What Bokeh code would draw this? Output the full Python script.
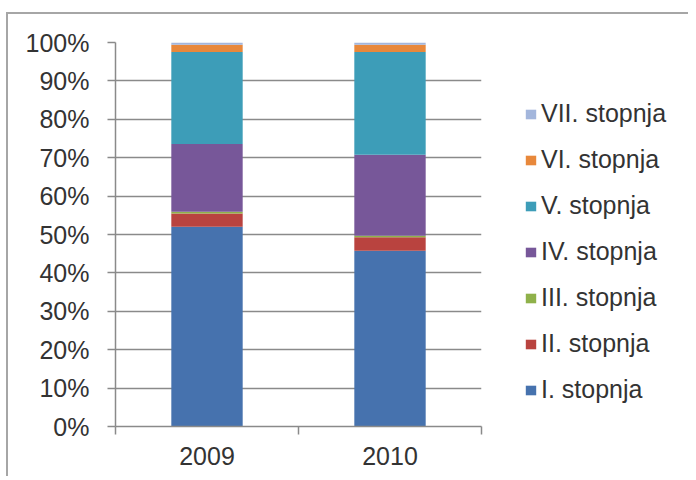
from bokeh.plotting import figure
from bokeh.layouts import row
from bokeh.models import (ColumnDataSource, FixedTicker, NumeralTickFormatter,
                          Range1d, Legend, LegendItem)
from bokeh.embed import file_html
from bokeh.resources import INLINE

years = ["2009", "2010"]
levels = ["I. stopnja", "II. stopnja", "III. stopnja", "IV. stopnja",
          "V. stopnja", "VI. stopnja", "VII. stopnja"]
s1 = [52.0, 45.8]
s2 = [3.5, 3.5]
s3 = [0.4, 0.4]
s4 = [17.7, 21.1]
s5 = [23.9, 26.7]
s6 = [1.9, 1.9]
s7 = [0.6, 0.6]
y_ticks = [0, 10, 20, 30, 40, 50, 60, 70, 80, 90, 100]

colors = ["#4672ae", "#b9433f", "#8fb14a", "#775799", "#3d9db8", "#e8883b", "#a3b6dc"]
series = [s1, s2, s3, s4, s5, s6, s7]
keys = ["s%d" % i for i in range(len(series))]

data = {"x": [i + 0.5 for i in range(len(years))]}
for k, s in zip(keys, series):
    data[k] = [v / 100.0 for v in s]
source = ColumnDataSource(data)

GRID = "#8a8a8a"
TXT = "#333333"
FONT = "Liberation Sans"
FS = "25px"
H = 462

p = figure(width=490, height=H, output_backend="svg", toolbar_location=None,
           x_range=Range1d(0, len(years)), y_range=Range1d(0, 1),
           min_border_left=107, min_border_right=17, min_border_top=28,
           min_border_bottom=50)
p.outline_line_color = None
p.background_fill_color = "white"
p.border_fill_color = "white"

rs = p.vbar_stack(keys, x="x", width=0.39, color=colors, line_color=None, source=source)

# y axis
p.yaxis.ticker = FixedTicker(ticks=[t / 100.0 for t in y_ticks])
p.yaxis.formatter = NumeralTickFormatter(format="0%")
p.yaxis.axis_line_color = GRID
p.yaxis.axis_line_width = 1.5
p.yaxis.major_tick_line_color = GRID
p.yaxis.major_tick_line_width = 1.5
p.yaxis.major_tick_out = 8
p.yaxis.major_tick_in = 0
p.yaxis.minor_tick_line_color = None
p.yaxis.major_label_text_font = FONT
p.yaxis.major_label_text_font_size = FS
p.yaxis.major_label_text_color = TXT
p.yaxis.major_label_standoff = 18

# x axis: category labels at centres, ticks between categories
p.xaxis.ticker = FixedTicker(ticks=[i + 0.5 for i in range(len(years))],
                             minor_ticks=list(range(len(years) + 1)))
p.xaxis.major_label_overrides = {i + 0.5: y for i, y in enumerate(years)}
p.xaxis.axis_line_color = GRID
p.xaxis.axis_line_width = 1.5
p.xaxis.major_tick_line_color = None
p.xaxis.minor_tick_line_color = GRID
p.xaxis.minor_tick_line_width = 1.5
p.xaxis.minor_tick_out = 8
p.xaxis.minor_tick_in = 0
p.xaxis.major_label_text_font = FONT
p.xaxis.major_label_text_font_size = FS
p.xaxis.major_label_text_color = TXT
p.xaxis.major_label_standoff = 12

p.xgrid.grid_line_color = None
p.ygrid.ticker = FixedTicker(ticks=[t / 100.0 for t in y_ticks])
p.ygrid.grid_line_color = GRID
p.ygrid.grid_line_width = 1.5

# legend panel: legend swatches only (one zero-height row placed outside the view)
legend_src = ColumnDataSource(dict({"x": [-10.0]}, **{k: [0.0] for k in keys}))
q = figure(width=190, height=H, output_backend="svg", toolbar_location=None,
           x_range=Range1d(0, 1), y_range=Range1d(0, 1),
           x_axis_location=None, y_axis_location=None,
           min_border_left=0, min_border_right=0, min_border_top=0, min_border_bottom=0)
q.outline_line_color = None
q.xgrid.grid_line_color = None
q.ygrid.grid_line_color = None
q.border_fill_color = "white"
q.background_fill_color = "white"
qs = q.vbar_stack(keys, x="x", width=0.39, color=colors, line_color=None, source=legend_src)

items = [LegendItem(label=lab, renderers=[r]) for lab, r in zip(levels, qs)][::-1]
legend = Legend(items=items, location=(26, 22))
legend.background_fill_alpha = 0
legend.border_line_color = None
legend.padding = 0
legend.margin = 0
legend.spacing = 17
legend.glyph_width = 13
legend.glyph_height = 12
legend.label_standoff = 4
legend.label_text_font = FONT
legend.label_text_font_size = FS
legend.label_text_color = TXT
q.add_layout(legend, "center")

layout = row(p, q, spacing=0,
             styles={"border-top": "2px solid #a6a6a6", "border-left": "2px solid #a6a6a6",
                     "margin-top": "12px", "margin-left": "6px"})

open("out.html", "w").write(file_html(layout, INLINE))
